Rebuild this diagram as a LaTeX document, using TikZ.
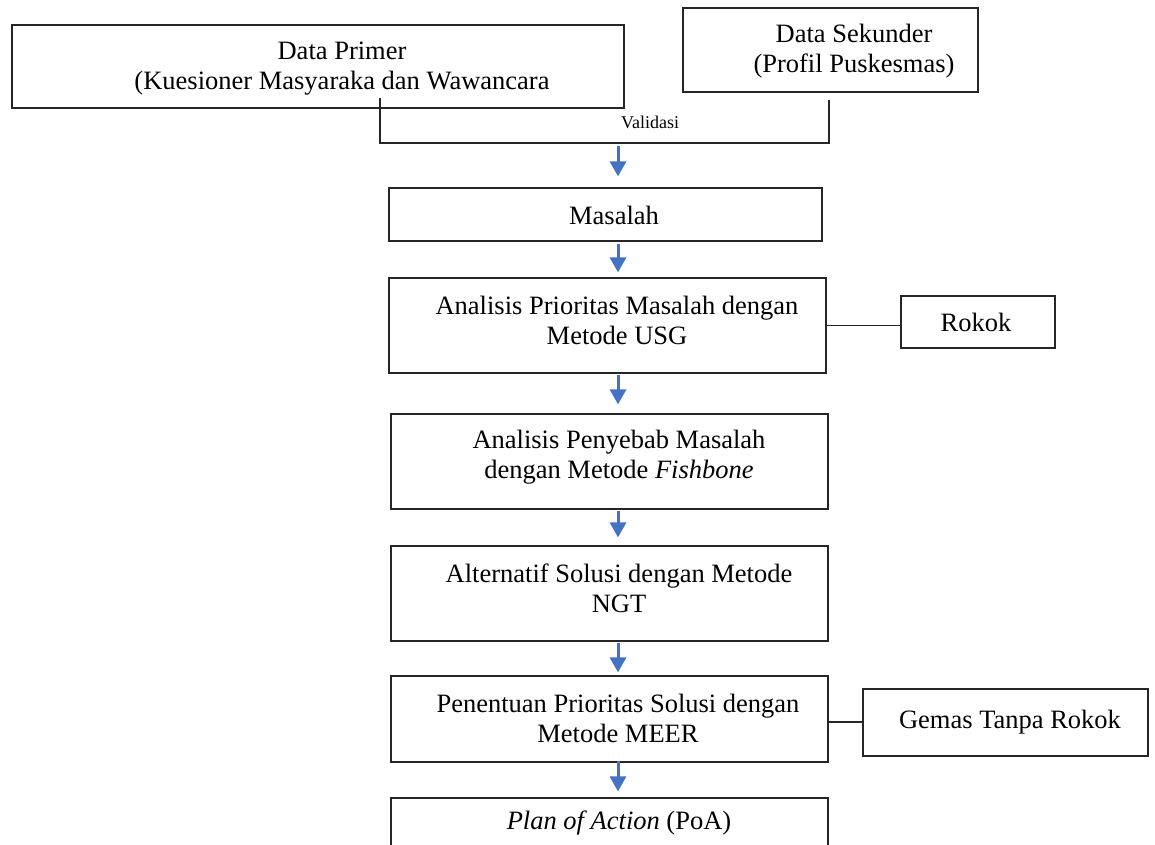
\documentclass[tikz,border=0pt]{standalone}
\usepackage{fontspec}
\setmainfont{Liberation Serif}
\usetikzlibrary{arrows.meta}
\definecolor{arrblue}{HTML}{4472C4}
\tikzset{
  box/.style={draw=black!85, line width=1.2pt, rectangle, inner sep=0pt},
  txt/.style={inner sep=0pt, align=center, font=\fontsize{26.5}{30}\selectfont},
  small/.style={inner sep=0pt, font=\fontsize{18}{20}\selectfont},
  link/.style={draw=black!85, line width=1.2pt},
  arr/.style={draw=arrblue, line width=3pt, -{Triangle[width=16pt,length=15pt]}, arrblue}
}
\begin{document}
\begin{tikzpicture}[x=1pt,y=-1pt]
\useasboundingbox (0,0) rectangle (1155,844);
\fill[white] (0,0) rectangle (1155,844);
\clip (0,0) rectangle (1155,844);

% boxes
\node[box, minimum width=612pt, minimum height=83pt] (primer) at (318,66.5) {};
\node[box, minimum width=295pt, minimum height=84pt] (sekunder) at (830.5,50) {};
\node[box, minimum width=433pt, minimum height=53pt] (masalah) at (605.5,214.5) {};
\node[box, minimum width=437pt, minimum height=95pt] (prior) at (607.5,325.5) {};
\node[box, minimum width=437pt, minimum height=95pt] (penyebab) at (609.5,461.5) {};
\node[box, minimum width=437pt, minimum height=95pt] (alternatif) at (609.5,593.5) {};
\node[box, minimum width=437pt, minimum height=86pt] (penentuan) at (609.5,719) {};
\node[box, minimum width=437pt, minimum height=100pt] (poa) at (609.5,848) {};
\node[box, minimum width=154pt, minimum height=52pt] (rokok) at (978,322) {};
\node[box, minimum width=285pt, minimum height=67pt] (gemas) at (1005.5,722.5) {};

% texts
\node[txt] (tprimer) at (342,69) {Data Primer\\(Kuesioner Masyaraka dan Wawancara};
\node[txt] (tsekunder) at (854,51) {Data Sekunder\\(Profil Puskesmas)};
\node[txt] (tmasalah) at (614,215) {Masalah};
\node[txt] (tprior) at (617,320) {Analisis Prioritas Masalah dengan\\Metode USG};
\node[txt] (tpenyebab) at (619,457) {Analisis Penyebab Masalah\\dengan Metode \textit{Fishbone}};
\node[txt] (talternatif) at (619,588) {Alternatif Solusi dengan Metode\\NGT};
\node[txt] (tpenentuan) at (618,718) {Penentuan Prioritas Solusi dengan\\Metode MEER};
\node[txt] (tpoa) at (619,823) {\textit{Plan of Action} (PoA)};
\node[txt] (trokok) at (976,322) {Rokok};
\node[txt] (tgemas) at (1010,722) {Gemas Tanpa Rokok};

% validasi bracket
\coordinate (vl) at (380,98);
\coordinate (vr) at (829,100);
\coordinate (vb) at (380,143);
\draw[link] (vl) |- (vr |- vb) -- (vr);
\node[small] (tvalidasi) at (650,122) {Validasi};

% side links
\draw[link] (prior.east) -- (prior.east -| rokok.west);
\draw[link] ([yshift=-3pt]penentuan.east) -- ([yshift=-3pt]penentuan.east -| gemas.west);

% arrows
\coordinate (ax) at (618,0);
\draw[arr] ([yshift=-3pt]vb -| ax) -- ([yshift=11pt]masalah.north -| ax);
\draw[arr] ([yshift=-2pt]masalah.south -| ax) -- ([yshift=5pt]prior.north -| ax);
\draw[arr] ([yshift=-1pt]prior.south -| ax) -- ([yshift=9pt]penyebab.north -| ax);
\draw[arr] ([yshift=-1pt]penyebab.south -| ax) -- ([yshift=8pt]alternatif.north -| ax);
\draw[arr] ([yshift=-1pt]alternatif.south -| ax) -- ([yshift=3pt]penentuan.north -| ax);
\draw[arr] ([yshift=2pt]penentuan.south -| ax) -- ([yshift=6pt]poa.north -| ax);
\end{tikzpicture}
\end{document}
